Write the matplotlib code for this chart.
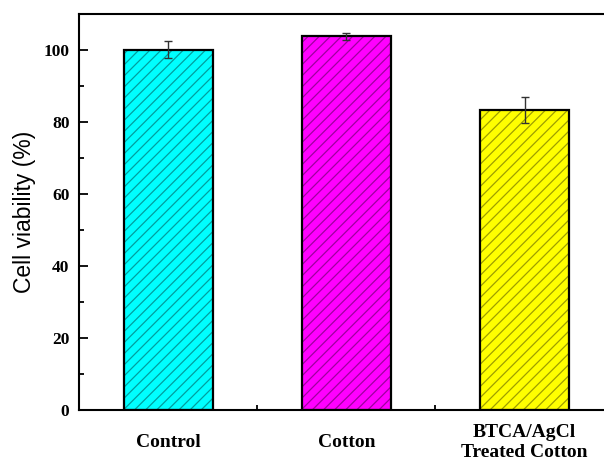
import matplotlib
matplotlib.use("Agg")
import matplotlib.pyplot as plt
from matplotlib.ticker import MultipleLocator, FixedLocator

# data
groups = ["Control", "Cotton", "BTCA/AgCl\nTreated Cotton"]
viability = [100.0, 103.8, 83.3]
errors = [2.4, 1.0, 3.5]
colors = ["#00FFFF", "#FF00FF", "#FFFF00"]

plt.rcParams["hatch.linewidth"] = 0.9

fig = plt.figure(figsize=(6.04, 4.61), dpi=100)
# right spine is cropped off in the reference, so the axes run past the figure edge
ax = fig.add_axes([0.131, 0.111, 0.885, 0.859])

x = [1, 2, 3]
# hatch layer (hatch takes the edge colour, so draw it separately)
ax.bar(x, viability, width=0.5, color=colors, edgecolor=(0, 0, 0, 0.38),
       hatch="///", linewidth=0, zorder=2)
# outline layer
ax.bar(x, viability, width=0.5, color="none", edgecolor="black",
       linewidth=1.6, zorder=3)
ax.errorbar(x, viability, yerr=errors, fmt="none", ecolor="#333333",
            elinewidth=1.0, capsize=3, capthick=1.0, zorder=4)

ax.set_xlim(0.5, 3.5)
ax.set_ylim(0, 110)

ax.yaxis.set_major_locator(MultipleLocator(20))
ax.yaxis.set_minor_locator(MultipleLocator(10))
ax.xaxis.set_major_locator(FixedLocator(x))
ax.xaxis.set_minor_locator(FixedLocator([1.5, 2.5]))
ax.set_xticklabels(groups)

for lbl in ax.get_yticklabels():
    lbl.set_fontfamily("Liberation Serif")
    lbl.set_fontweight("bold")
    lbl.set_fontsize(12.5)
for lbl in ax.get_xticklabels():
    lbl.set_fontfamily("Liberation Serif")
    lbl.set_fontweight("bold")
    lbl.set_fontsize(14)
    lbl.set_linespacing(1.25)
    lbl.set_verticalalignment("center")

ax.tick_params(axis="both", which="major", direction="in", length=6.5, width=1.3)
ax.tick_params(axis="both", which="minor", direction="in", length=3.6, width=1.3)
ax.tick_params(axis="x", which="major", pad=23.5)
ax.tick_params(axis="y", which="major", pad=7)
ax.tick_params(top=False, right=False, which="both")

for s in ax.spines.values():
    s.set_linewidth(1.5)

ax.set_ylabel("Cell viability (%)", fontsize=16.5, fontfamily="Liberation Sans",
              labelpad=5)

fig.savefig("out.png", dpi=100)
